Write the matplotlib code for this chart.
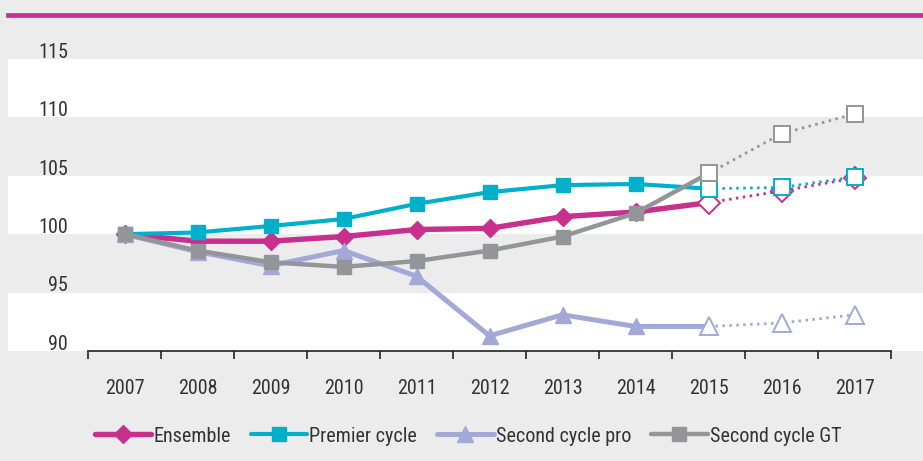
import matplotlib
matplotlib.use('Agg')
import matplotlib.pyplot as plt
from matplotlib.lines import Line2D

plt.rcParams['font.family'] = ['Roboto Condensed', 'Roboto', 'DejaVu Sans']

years = ['2007', '2008', '2009', '2010', '2011', '2012', '2013', '2014', '2015', '2016', '2017']
ensemble = [100, 99.4, 99.4, 99.8, 100.4, 100.5, 101.5, 101.9, 102.7, 103.7, 104.8]
premier = [100, 100.15, 100.7, 101.3, 102.6, 103.6, 104.2, 104.3, 103.9, 104.0, 104.9]
pro = [100, 98.5, 97.3, 98.6, 96.4, 91.3, 93.1, 92.1, 92.1, 92.4, 93.1]
gt = [100, 98.6, 97.6, 97.2, 97.7, 98.6, 99.8, 101.8, 105.2, 108.6, 110.3]
yticks = [90, 95, 100, 105, 110, 115]

series = [
    ('Ensemble', ensemble, '#c8308e', 'D', 3.9, 9),
    ('Premier cycle', premier, '#00b0cb', 's', 3.0, 10),
    ('Second cycle pro', pro, '#a3a9d7', '^', 3.6, 11),
    ('Second cycle GT', gt, '#939598', 's', 3.2, 10),
]
last_real = 8  # 2015: start of projected values

bg = '#ececec'
txt = '#333333'
fs = 14.5
fig = plt.figure(figsize=(9.23, 4.61), dpi=100, facecolor=bg)
W, H = 923, 461
ax = fig.add_axes([8 / W, (H - 351) / H, 915 / W, (351 - 18) / H])
ax.set_facecolor(bg)

x = list(range(len(years)))
px0, step = 124.5, 73.0
ax.set_xlim((8 - px0) / step, (923 - px0) / step)
ax.set_ylim(90, 90 + (351 - 18) / 11.68)

for lo in (90, 100, 110):
    ax.axhspan(lo, lo + 5, color='white', lw=0, zorder=0)

for i, (name, vals, col, mk, lw, ms) in enumerate(series):
    z = 3 + i
    ax.plot(x[:last_real + 1], vals[:last_real + 1], color=col, lw=lw,
            solid_capstyle='round', zorder=z)
    ax.plot(x[:last_real], vals[:last_real], ls='none', marker=mk, ms=ms,
            color=col, zorder=z)
    ax.plot(x[last_real:], vals[last_real:], color=col, lw=2.0,
            ls=(0, (0.9, 1.6)), zorder=z)
    ax.plot(x[last_real:], vals[last_real:], ls='none', marker=mk,
            ms=ms + 2, mfc='white', mec=col, mew=1.4, zorder=z + 0.5)

# axes frame
for s in ('left', 'right'):
    ax.spines[s].set_visible(False)
ax.spines['top'].set_color('#c8308e')
ax.spines['top'].set_linewidth(3.4)
ax.spines['top'].set_position(('outward', 2))
ax.spines['bottom'].set_color('#222222')
ax.spines['bottom'].set_linewidth(1.2)
ax.spines['bottom'].set_bounds(-0.5, len(years) - 0.5)

ax.set_xticks([i - 0.5 for i in range(len(years) + 1)])
ax.set_xticklabels([])
ax.set_xticks(x, minor=True)
ax.set_xticklabels(years, minor=True)
ax.tick_params(axis='x', which='major', length=6, width=1.2, color='#222222', direction='out')
ax.tick_params(axis='x', which='minor', length=0, pad=20, labelsize=fs, labelcolor=txt)

ax.set_yticks([])
for v in yticks:
    ax.text((68 - 8) / 915, v + 0.1, str(v), transform=ax.get_yaxis_transform(),
            ha='right', va='baseline', fontsize=fs, color=txt)

handles = [Line2D([], [], color=col, lw=lw, marker=mk, ms=ms, solid_capstyle='round')
           for name, vals, col, mk, lw, ms in series]
fig.legend(handles, [s[0] for s in series], loc='center left',
           bbox_to_anchor=(95 / W, (H - 436) / H), ncol=4, frameon=False,
           fontsize=fs, handlelength=2.8, handletextpad=0.1, columnspacing=1.0,
           labelcolor=txt, borderaxespad=0, borderpad=0)

fig.savefig('out.png', dpi=100, facecolor=bg)
